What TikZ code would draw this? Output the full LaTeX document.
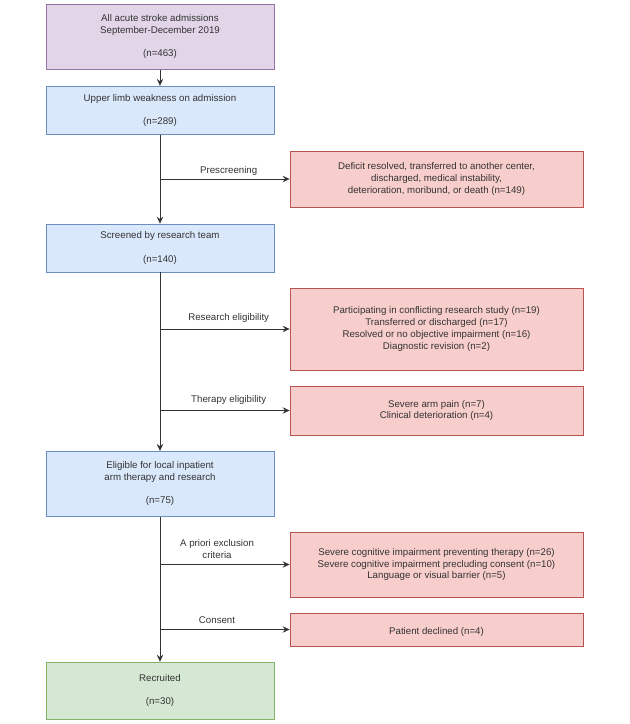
\documentclass[tikz,border=0pt]{standalone}
\usepackage{fontspec}
\setmainfont{Liberation Sans}
\usetikzlibrary{positioning,arrows.meta}
\definecolor{purplefill}{HTML}{E1D5E7}
\definecolor{purpledraw}{HTML}{9673A6}
\definecolor{bluefill}{HTML}{DAE8FC}
\definecolor{bluedraw}{HTML}{6C8EBF}
\definecolor{redfill}{HTML}{F8CECC}
\definecolor{reddraw}{HTML}{B85450}
\definecolor{greenfill}{HTML}{D5E8D4}
\definecolor{greendraw}{HTML}{82B366}
\definecolor{textgray}{HTML}{333333}

\begin{document}
\begin{tikzpicture}[
  x=1pt, y=1pt,
  font=\fontsize{9.7}{11.7}\selectfont,
  box/.style={draw, align=center, text=textgray, line width=0.8pt, inner sep=0pt,
    execute at begin node={\rule{0pt}{12pt}}},
  purplebox/.style={box, fill=purplefill, draw=purpledraw, minimum width=228pt},
  bluebox/.style={box, fill=bluefill, draw=bluedraw, minimum width=228pt},
  greenbox/.style={box, fill=greenfill, draw=greendraw, minimum width=228pt},
  redbox/.style={box, fill=redfill, draw=reddraw, minimum width=293pt},
  flow/.style={draw=black!80, line width=0.8pt, -{Stealth[length=7pt,width=6.5pt,inset=2.5pt]}},
  lbl/.style={above=6pt, text=textgray, align=center, inner sep=0pt},
  ]
  \useasboundingbox (0,0) rectangle (630,-724);
  %Main column
  \node[purplebox, minimum height=65pt, anchor=north] (adm) at (160,-4)
    {All acute stroke admissions\\September-December 2019\\[\baselineskip](n=463)};
  \node[bluebox, minimum height=48pt, below=16pt of adm] (weak)
    {Upper limb weakness on admission\\[\baselineskip](n=289)};
  \node[bluebox, minimum height=48pt, below=89pt of weak] (screen)
    {Screened by research team\\[\baselineskip](n=140)};
  \node[bluebox, minimum height=65pt, below=178.5pt of screen] (elig)
    {Eligible for local inpatient\\arm therapy and research\\[\baselineskip](n=75)};
  \node[greenbox, minimum height=57pt, below=145pt of elig] (recr)
    {Recruited\\[\baselineskip](n=30)};
  %Exclusions
  \node[redbox, minimum height=56pt] (pre) at (436.5,-179)
    {Deficit resolved, transferred to another center,\\discharged, medical instability,\\deterioration, moribund, or death (n=149)};
  \node[redbox, minimum height=82pt] (research) at (436.5,-329)
    {Participating in conflicting research study (n=19)\\Transferred or discharged (n=17)\\Resolved or no objective impairment (n=16)\\Diagnostic revision (n=2)};
  \node[redbox, minimum height=49pt] (therapy) at (436.5,-410.5)
    {Severe arm pain (n=7)\\Clinical deterioration (n=4)};
  \node[redbox, minimum height=65pt] (apriori) at (436.5,-564.5)
    {Severe cognitive impairment preventing therapy (n=26)\\Severe cognitive impairment precluding consent (n=10)\\Language or visual barrier (n=5)};
  \node[redbox, minimum height=33pt] (consent) at (436.5,-629.5)
    {Patient declined (n=4)};
  %Arrows
  \draw[flow] (adm) -- (weak);
  \draw[flow] (weak) -- (screen);
  \draw[flow] (screen) -- (elig);
  \draw[flow] (elig) -- (recr);
  \draw[flow] (weak.south |- pre.west) -- node[lbl, pos=.53, above=3pt]{Prescreening} (pre.west);
  \draw[flow] (screen.south |- research.west) -- node[lbl, pos=.53]{Research eligibility} (research.west);
  \draw[flow] (screen.south |- therapy.west) -- node[lbl, pos=.53]{Therapy eligibility} (therapy.west);
  \draw[flow] (elig.south |- apriori.west) -- node[lbl, pos=.44]{A priori exclusion\\criteria} (apriori.west);
  \draw[flow] (elig.south |- consent.west) -- node[lbl, pos=.44]{Consent} (consent.west);
\end{tikzpicture}
\end{document}
